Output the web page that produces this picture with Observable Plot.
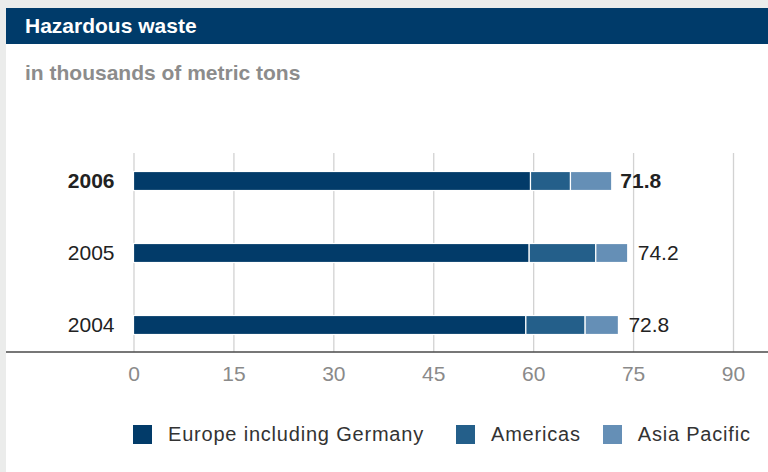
<!DOCTYPE html>
<html>
<head>
<meta charset="utf-8">
<script src="https://cdn.jsdelivr.net/npm/d3@7"></script>
<script src="https://cdn.jsdelivr.net/npm/@observablehq/plot@0.6"></script>
<style>
  html, body { margin: 0; padding: 0; }
  body { width: 768px; height: 472px; overflow: hidden; background: #ebeceb; font-family: "Liberation Sans", Arial, sans-serif; position: relative; }
  #panel { position: absolute; left: 6px; top: 8px; width: 762px; height: 464px; background: #fff; }
  #title { position: absolute; left: 0; top: 0; width: 762px; height: 36px; background: #003b6a; color: #fff; font-weight: bold; font-size: 21px; line-height: 36px; padding-left: 19px; box-sizing: border-box; }
  #subtitle { position: absolute; left: 19px; top: 53px; line-height: 24px; font-size: 21px; font-weight: bold; color: #8c8c8c; }
  #chart { position: absolute; left: 0; top: 92px; }
  #legend { position: absolute; left: 127px; top: 417px; height: 19px; display: flex; align-items: center; font-size: 20px; letter-spacing: 0.8px; color: #333; }
  .item { display: flex; align-items: center; }
  .sw { width: 19px; height: 19px; margin-right: 16px; }
</style>
</head>
<body>
<div id="panel">
  <div id="title">Hazardous waste</div>
  <div id="subtitle">in thousands of metric tons</div>
  <div id="chart"></div>
  <div id="legend"></div>
</div>
<script>
const years = ["2006", "2005", "2004"];
const regions = ["Europe including Germany", "Americas", "Asia Pacific"];
const europe = [59.6, 59.4, 58.9];
const americas = [6.0, 10.0, 8.9];
const asiaPacific = [6.2, 4.8, 5.0];
const totals = [71.8, 74.2, 72.8];
const xTicks = [0, 15, 30, 45, 60, 75, 90];
const colors = ["#023b69", "#245f8a", "#658fb6"];
const boldYear = "2006";

const series = [europe, americas, asiaPacific];
const rows = [];
years.forEach((y, i) => regions.forEach((r, j) => rows.push({year: y, region: r, value: series[j][i]})));
const totalRows = years.map((y, i) => ({year: y, total: totals[i]}));

const W = 762, H = 300;
const FS = 21;
const plot = Plot.plot({
  width: W,
  height: H,
  marginLeft: 127.5,
  marginRight: 35,
  marginTop: 44.25,
  marginBottom: 38.25,
  style: {fontFamily: "'Liberation Sans', Arial, sans-serif", background: "transparent"},
  x: {domain: [0, 90], axis: null},
  y: {domain: years, padding: 0, axis: null},
  color: {domain: regions, range: colors},
  marks: [
    Plot.ruleX(xTicks, {stroke: "#d2d2d2", strokeWidth: 1.3, insetTop: 8.75, insetBottom: 9.75}),
    Plot.barX(rows, Plot.stackX({x: "value", y: "year", fill: "region", order: regions, stroke: "#fff", strokeWidth: 1.2, insetTop: 26.5, insetBottom: 26.5})),
    Plot.axisX({ticks: xTicks, tickSize: 0, tickPadding: 3.5, fontSize: FS, fill: "#8a8a8a", tickFormat: d => d}),
    Plot.text(years.filter(y => y !== boldYear), {x: () => 0, y: d => d, text: d => d, dx: -19.5, textAnchor: "end", fontSize: FS, fill: "#222"}),
    Plot.text(years.filter(y => y === boldYear), {x: () => 0, y: d => d, text: d => d, dx: -19.5, textAnchor: "end", fontSize: FS, fontWeight: "bold", fill: "#222"}),
    Plot.text(totalRows.filter(d => d.year !== boldYear), {x: "total", y: "year", text: d => d3.format(".1f")(d.total), dx: 9.5, textAnchor: "start", fontSize: FS, fill: "#222"}),
    Plot.text(totalRows.filter(d => d.year === boldYear), {x: "total", y: "year", text: d => d3.format(".1f")(d.total), dx: 8, textAnchor: "start", fontSize: FS, fontWeight: "bold", fill: "#222"})
  ]
});
// baseline axis line across the full width at the bottom of the grid
const yScale = plot.scale("y");
const baseY = yScale.range[1] - 9.75;
d3.select(plot).append("line")
  .attr("x1", 0).attr("x2", W).attr("y1", baseY).attr("y2", baseY)
  .attr("stroke", "#4a4a4a").attr("stroke-width", 1.6);
document.getElementById("chart").appendChild(plot);

const legendGaps = [32, 22, 0];
const legend = d3.select("#legend");
regions.forEach((r, i) => {
  const it = legend.append("div").attr("class", "item").style("margin-right", legendGaps[i] + "px");
  it.append("div").attr("class", "sw").style("background", colors[i]);
  it.append("span").text(r);
});
</script>
</body>
</html>
